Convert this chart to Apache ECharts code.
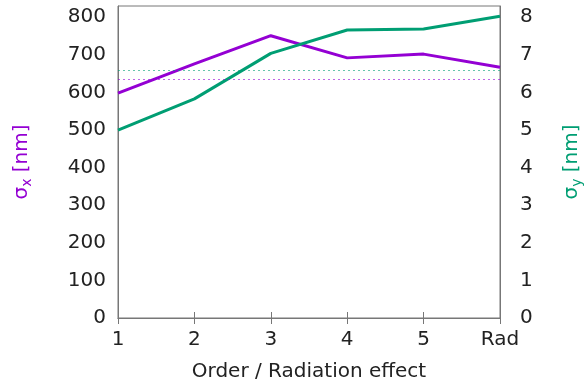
<!DOCTYPE html>
<html>
<head>
<meta charset="utf-8">
<script src="https://cdn.jsdelivr.net/npm/echarts@6/dist/echarts.min.js"></script>
<style>
  html, body { margin: 0; padding: 0; background: #fff; }
  #chart { width: 587px; height: 385px; }
</style>
</head>
<body>
<div id="chart"></div>
<script>
// values
const categories = ['1', '2', '3', '4', '5', 'Rad'];
const sigmaX = [598, 676, 751, 692, 702, 667];      // left axis, nm
const sigmaY = [5.0, 5.83, 7.04, 7.66, 7.69, 8.03]; // right axis, nm
const sigmaXRef = 635;  // dotted purple line
const sigmaYRef = 6.6;  // dotted green line

const purple = '#9400d3';
const green = '#009e73';
const axisGray = '#777';
const font = 'DejaVu Sans, sans-serif';

const chart = echarts.init(document.getElementById('chart'));

const tickStyle = { inside: true, length: 6, lineStyle: { color: axisGray } };
const labelStyle = { color: '#222', fontSize: 20, fontFamily: font };

function subName(sub, color) {
  return {
    name: '{s|σ}{b|' + sub + '}{s| [nm]}',
    nameTextStyle: {
      rich: {
        s: { color: color, fontSize: 20, fontFamily: font, lineHeight: 24 },
        b: { color: color, fontSize: 14, fontFamily: font, lineHeight: 24, verticalAlign: 'bottom' }
      }
    }
  };
}

const options = {
  animation: false,
  grid: {
    left: 118, right: 87, top: 6, bottom: 67,
    outerBoundsMode: 'none',
    containLabel: false,
    show: true, borderColor: axisGray, borderWidth: 1
  },
  xAxis: [
    {
      type: 'category',
      data: categories,
      boundaryGap: false,
      name: 'Order / Radiation effect',
      nameLocation: 'middle',
      nameGap: 44,
      nameTextStyle: { color: '#222', fontSize: 20, fontFamily: font },
      axisLine: { lineStyle: { color: axisGray } },
      axisTick: tickStyle,
      axisLabel: Object.assign({ margin: 12 }, labelStyle),
      splitLine: { show: false }
    },
    {
      type: 'category',
      data: categories,
      boundaryGap: false,
      position: 'top',
      axisLine: { lineStyle: { color: axisGray } },
      axisTick: tickStyle,
      axisLabel: { show: false },
      splitLine: { show: false }
    }
  ],
  yAxis: [
    Object.assign({
      type: 'value',
      min: 0, max: 830, interval: 100,
      nameLocation: 'middle',
      nameGap: 84,
      axisLine: { show: true, lineStyle: { color: axisGray } },
      axisTick: tickStyle,
      axisLabel: Object.assign({ showMaxLabel: false, margin: 12 }, labelStyle),
      splitLine: { show: false }
    }, subName('x', purple)),
    Object.assign({
      type: 'value',
      min: 0, max: 8.3, interval: 1,
      position: 'right',
      nameLocation: 'middle',
      nameGap: 60,
      axisLine: { show: true, lineStyle: { color: axisGray } },
      axisTick: tickStyle,
      axisLabel: Object.assign({ showMaxLabel: false, margin: 20 }, labelStyle),
      splitLine: { show: false }
    }, subName('y', green))
  ],
  series: [
    {
      name: 'sigma_x',
      type: 'line',
      xAxisIndex: 0,
      yAxisIndex: 0,
      data: sigmaX,
      symbol: 'none',
      lineStyle: { color: purple, width: 3 },
      markLine: {
        silent: true,
        symbol: 'none',
        label: { show: false },
        lineStyle: { color: purple, opacity: 0.6, type: [2, 3], width: 1 },
        data: [{ yAxis: sigmaXRef }]
      }
    },
    {
      name: 'sigma_y',
      type: 'line',
      xAxisIndex: 0,
      yAxisIndex: 1,
      data: sigmaY,
      symbol: 'none',
      lineStyle: { color: green, width: 3 },
      markLine: {
        silent: true,
        symbol: 'none',
        label: { show: false },
        lineStyle: { color: green, opacity: 0.6, type: [2, 3], width: 1 },
        data: [{ yAxis: sigmaYRef }]
      }
    }
  ]
};

chart.setOption(options);
</script>
</body>
</html>
